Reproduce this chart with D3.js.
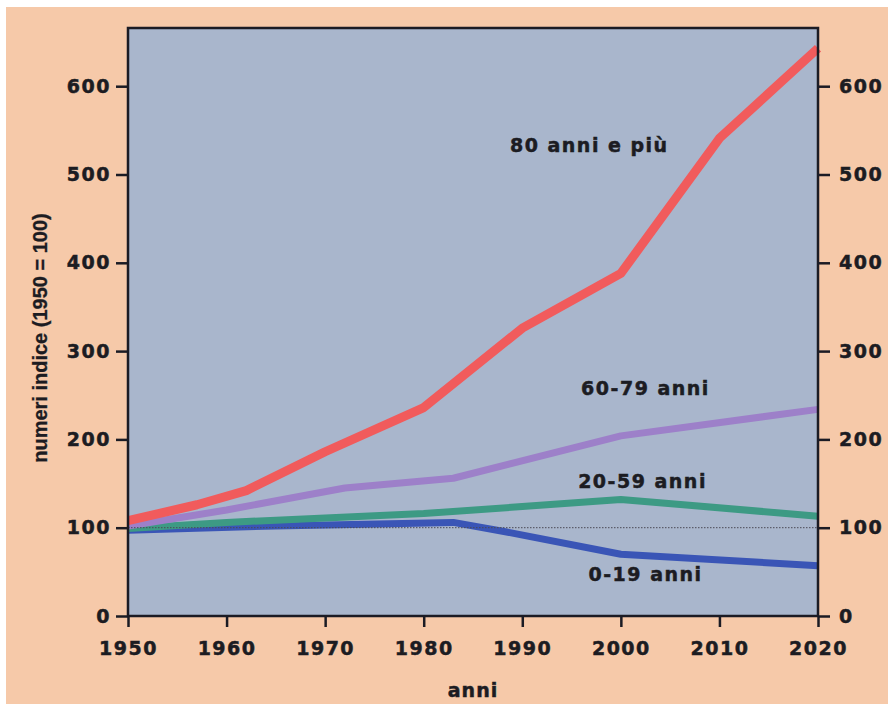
<!DOCTYPE html>
<html>
<head>
<meta charset="utf-8">
<script src="https://cdn.jsdelivr.net/npm/d3@7"></script>
<style>
  html, body { margin: 0; padding: 0; background: #ffffff; }
  svg { display: block; }
  .tick text, .lbl { font-family: "DejaVu Sans", sans-serif; font-weight: bold; fill: #1c1c22; stroke: #1c1c22; stroke-width: 0.5px; }
</style>
</head>
<body>
<svg id="chart" width="893" height="709"></svg>
<script>
// ---- data (index numbers, 1950 = 100) ----
const xTicks = [1950, 1960, 1970, 1980, 1990, 2000, 2010, 2020];
const yTicks = [0, 100, 200, 300, 400, 500, 600];

const years80 = [1950, 1957, 1962, 1970, 1980, 1990, 2000, 2010, 2020];
const vals80  = [108, 126, 142, 186, 236, 326, 388, 541, 643];

const years60 = [1950, 1960, 1972, 1983, 2000, 2020];
const vals60  = [102, 120, 145, 156, 204, 234];

const years20 = [1950, 1960, 1970, 1980, 1990, 2000, 2020];
const vals20  = [99, 106, 111, 116, 124, 132, 113];

const years0  = [1950, 1965, 1983, 1988, 2000, 2020];
const vals0   = [97, 102, 106, 96, 70, 57];

const seriesNames = ["0-19 anni", "20-59 anni", "60-79 anni", "80 anni e più"];

// ---- layout ----
const W = 893, H = 709;
const mLeft = 128, mRight = 818, mTop = 28, mBottom = 616;

const svg = d3.select("#chart");
svg.append("rect").attr("x", 0).attr("y", 0).attr("width", W).attr("height", H).attr("fill", "#ffffff");
svg.append("rect").attr("x", 6).attr("y", 7).attr("width", 882).attr("height", 697).attr("fill", "#f6c9a9");

const x = d3.scaleLinear().domain([1950, 2020]).range([mLeft, mRight]);
const y = d3.scaleLinear().domain([0, 600]).range([mBottom, mBottom - 6 * 88.3]);

// plot area
svg.append("rect")
  .attr("x", mLeft).attr("y", mTop)
  .attr("width", mRight - mLeft).attr("height", mBottom - mTop)
  .attr("fill", "#a9b6cc");

const line = d3.line().x(d => x(d[0])).y(d => y(d[1]));

const series = [
  { yrs: years0,  vals: vals0,  color: "#3a55b6", w: 7 },
  { yrs: years20, vals: vals20, color: "#3d9a84", w: 7 },
  { yrs: years60, vals: vals60, color: "#9d80c9", w: 7 },
  { yrs: years80, vals: vals80, color: "#f15b5c", w: 9 }
];

series.forEach(s => {
  svg.append("path")
    .datum(s.yrs.map((yr, i) => [yr, s.vals[i]]))
    .attr("d", line)
    .attr("fill", "none")
    .attr("stroke", s.color)
    .attr("stroke-width", s.w)
    .attr("stroke-linejoin", "round")
    .attr("stroke-linecap", "butt");
});

// dotted reference line at 100
svg.append("line")
  .attr("x1", x(1950)).attr("x2", x(2020))
  .attr("y1", y(100)).attr("y2", y(100))
  .attr("stroke", "#4a4a55").attr("stroke-width", 1)
  .attr("stroke-dasharray", "1.5,1.5");

// frame
svg.append("rect")
  .attr("x", mLeft).attr("y", mTop)
  .attr("width", mRight - mLeft).attr("height", mBottom - mTop)
  .attr("fill", "none").attr("stroke", "#1b1b24").attr("stroke-width", 2.5);

// axes
const axisColor = "#1b1b24";
function styleAxis(g) {
  g.select(".domain").remove();
  g.selectAll(".tick line").attr("stroke", axisColor).attr("stroke-width", 2.5);
  g.selectAll(".tick text")
    .attr("font-size", 19)
    .attr("letter-spacing", "1.5px")
    .attr("fill", "#1c1c22");
}

svg.append("g")
  .attr("transform", `translate(${mLeft},0)`)
  .call(d3.axisLeft(y).tickValues(yTicks).tickSize(12).tickPadding(5))
  .call(styleAxis);

svg.append("g")
  .attr("transform", `translate(${mRight},0)`)
  .call(d3.axisRight(y).tickValues(yTicks).tickSize(12).tickPadding(9))
  .call(styleAxis);

svg.append("g")
  .attr("transform", `translate(0,${mBottom})`)
  .call(d3.axisBottom(x).tickValues(xTicks).tickFormat(d3.format("d")).tickSize(11).tickPadding(15))
  .call(styleAxis);

// axis titles
svg.append("text").attr("class", "lbl")
  .attr("x", x(1985)).attr("y", 697)
  .attr("text-anchor", "middle")
  .attr("font-size", 19).attr("letter-spacing", "1px")
  .text("anni");

svg.append("text")
  .attr("transform", `translate(47,338) rotate(-90)`)
  .attr("text-anchor", "middle")
  .attr("font-family", "'Liberation Sans', Arial, sans-serif")
  .attr("font-weight", "bold")
  .attr("font-size", 20)
  .attr("fill", "#1c1c22")
  .attr("stroke", "#1c1c22").attr("stroke-width", 0.3)
  .text("numeri indice (1950 = 100)");

// series labels
const labelPos = [
  { name: seriesNames[0], yr: 2002.5, v: 40 },
  { name: seriesNames[1], yr: 2002.2, v: 145 },
  { name: seriesNames[2], yr: 2002.5, v: 250 },
  { name: seriesNames[3], yr: 1996.8, v: 526 }
];
labelPos.forEach(l => {
  svg.append("text").attr("class", "lbl")
    .attr("x", x(l.yr)).attr("y", y(l.v))
    .attr("text-anchor", "middle")
    .attr("font-size", 19)
    .attr("letter-spacing", "1.5px")
    .text(l.name);
});
</script>
</body>
</html>
